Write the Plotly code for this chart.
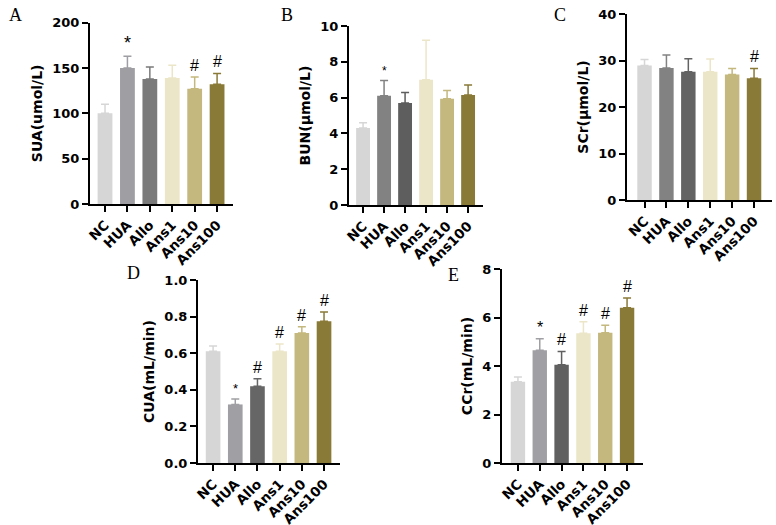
import plotly.graph_objects as go

W, H = 776, 525

groups = ["NC", "HUA", "Allo", "Ans1", "Ans10", "Ans100"]

sua = [100, 150, 138, 139, 127, 132]
sua_err = [10, 13, 13, 14, 13, 12]
sua_mark = ["", "*", "", "", "#", "#"]

bun = [4.3, 6.1, 5.7, 7.0, 5.93, 6.15]
bun_err = [0.3, 0.85, 0.58, 2.2, 0.47, 0.55]
bun_mark = ["", "*", "", "", "", ""]

scr = [28.9, 28.4, 27.6, 27.6, 27.0, 26.2]
scr_err = [1.3, 2.8, 2.8, 2.7, 1.3, 2.1]
scr_mark = ["", "", "", "", "", "#"]

cua = [0.61, 0.32, 0.42, 0.61, 0.71, 0.775]
cua_err = [0.03, 0.03, 0.04, 0.04, 0.035, 0.05]
cua_mark = ["", "*", "#", "#", "#", "#"]

ccr = [3.35, 4.65, 4.05, 5.35, 5.37, 6.4]
ccr_err = [0.2, 0.47, 0.55, 0.47, 0.31, 0.4]
ccr_mark = ["", "*", "#", "#", "#", "#"]

colors_a = ["#d6d6d6", "#9e9ea3", "#7a7a7a", "#ece6c8", "#c4b87e", "#8a7a38"]
colors_b = ["#d6d6d6", "#828282", "#5e5e5e", "#ece6c8", "#c4b87e", "#8a7a38"]
colors_c = ["#d6d6d6", "#828282", "#636363", "#ece6c8", "#c4b87e", "#8a7a38"]
colors_d = ["#d6d6d6", "#a0a0a4", "#666666", "#ece6c8", "#c4b87e", "#8a7a38"]
colors_e = ["#d6d6d6", "#a0a0a4", "#606060", "#ece6c8", "#c4b87e", "#8a7a38"]

panels = [
    dict(v=sua, e=sua_err, m=sua_mark, c=colors_a, x0=90, x1=233, yt=22.7, yb=204, ymax=200, dt=50,
         xr=[-0.67, 5.71], title="SUA(umol/L)", letter="A", lx=15, ly=15, msz=[0, 18, 0, 0, 16, 16], fmt=""),
    dict(v=bun, e=bun_err, m=bun_mark, c=colors_b, x0=349, x1=483, yt=26, yb=205, ymax=10, dt=2,
         xr=[-0.67, 5.71], title="BUN(μmol/L)", letter="B", lx=287, ly=15, msz=[0, 12, 0, 0, 0, 0], fmt=""),
    dict(v=scr, e=scr_err, m=scr_mark, c=colors_c, x0=627, x1=772, yt=14, yb=200, ymax=40, dt=10,
         xr=[-0.8, 5.82], title="SCr(μmol/L)", letter="C", lx=560, ly=15, msz=[0, 0, 0, 0, 0, 16], fmt=""),
    dict(v=cua, e=cua_err, m=cua_mark, c=colors_d, x0=198, x1=340, yt=280, yb=463, ymax=1.0, dt=0.2,
         xr=[-0.68, 5.72], title="CUA(mL/min)", letter="D", lx=133, ly=273, msz=[0, 13, 16, 16, 16, 16], fmt=".1f"),
    dict(v=ccr, e=ccr_err, m=ccr_mark, c=colors_e, x0=502, x1=643, yt=269, yb=463, ymax=8, dt=2,
         xr=[-0.73, 5.73], title="CCr(mL/min)", letter="E", lx=453, ly=275, msz=[0, 16, 16, 16, 16, 16], fmt=""),
]

FONT = "DejaVu Sans, Arial"

fig = go.Figure()
annotations = []
layout = {}
for i, p in enumerate(panels):
    idx = "" if i == 0 else str(i + 1)
    xa, ya = "x" + idx, "y" + idx
    fig.add_trace(go.Bar(
        x=list(range(len(groups))), y=p["v"],
        marker=dict(color=p["c"], line=dict(width=0)),
        width=0.66,
        xaxis=xa, yaxis=ya, showlegend=False, hoverinfo="skip",
    ))
    for k in range(6):
        fig.add_trace(go.Scatter(
            x=[k], y=[p["v"][k]], mode="markers", marker=dict(size=0.1, color="rgba(0,0,0,0)"),
            error_y=dict(type="data", array=[p["e"][k]], arrayminus=[0], symmetric=False,
                         color=p["c"][k], thickness=1.5, width=4),
            xaxis=xa, yaxis=ya, showlegend=False, hoverinfo="skip",
        ))
    layout["xaxis" + idx] = dict(
        domain=[p["x0"] / W, p["x1"] / W], anchor=ya, range=p["xr"], automargin=False,
        tickmode="array", tickvals=list(range(6)), ticktext=groups, tickangle=-45,
        showline=True, linecolor="black", linewidth=2, ticks="outside", ticklen=6, tickwidth=2,
        tickcolor="black", showgrid=False, zeroline=False,
        tickfont=dict(family=FONT, size=13.5, color="black", weight="bold"),
    )
    layout["yaxis" + idx] = dict(
        domain=[1 - p["yb"] / H, 1 - p["yt"] / H], anchor=xa, range=[0, p["ymax"]], automargin=False,
        dtick=p["dt"], tick0=0, tickformat=p["fmt"],
        showline=True, linecolor="black", linewidth=2, ticks="outside", ticklen=6, tickwidth=2,
        tickcolor="black", showgrid=False, zeroline=False,
        tickfont=dict(family=FONT, size=13, color="black", weight="bold"),
        title=dict(text=p["title"], standoff=6,
                   font=dict(family=FONT, size=14, color="black", weight="bold")),
    )
    for k in range(6):
        if p["m"][k]:
            annotations.append(dict(
                x=k, y=p["v"][k] + p["e"][k], xref=xa, yref=ya, text=p["m"][k], showarrow=False,
                yanchor="bottom", yshift=1,
                font=dict(family="Liberation Sans, Arial", size=p["msz"][k], color="black"),
            ))
    annotations.append(dict(
        x=p["lx"] / W, y=1 - p["ly"] / H, xref="paper", yref="paper", text=p["letter"],
        showarrow=False, xanchor="center", yanchor="middle",
        font=dict(family="Liberation Serif, Times New Roman", size=18, color="black"),
    ))

fig.update_layout(
    width=W, height=H, margin=dict(l=0, r=0, t=0, b=0, autoexpand=False),
    plot_bgcolor="white", paper_bgcolor="white",
    annotations=annotations, **layout,
)
fig.write_html(
    "out.html",
    config={"displayModeBar": False},
    post_script="document.body.style.margin='0';document.body.style.overflow='hidden';",
)
